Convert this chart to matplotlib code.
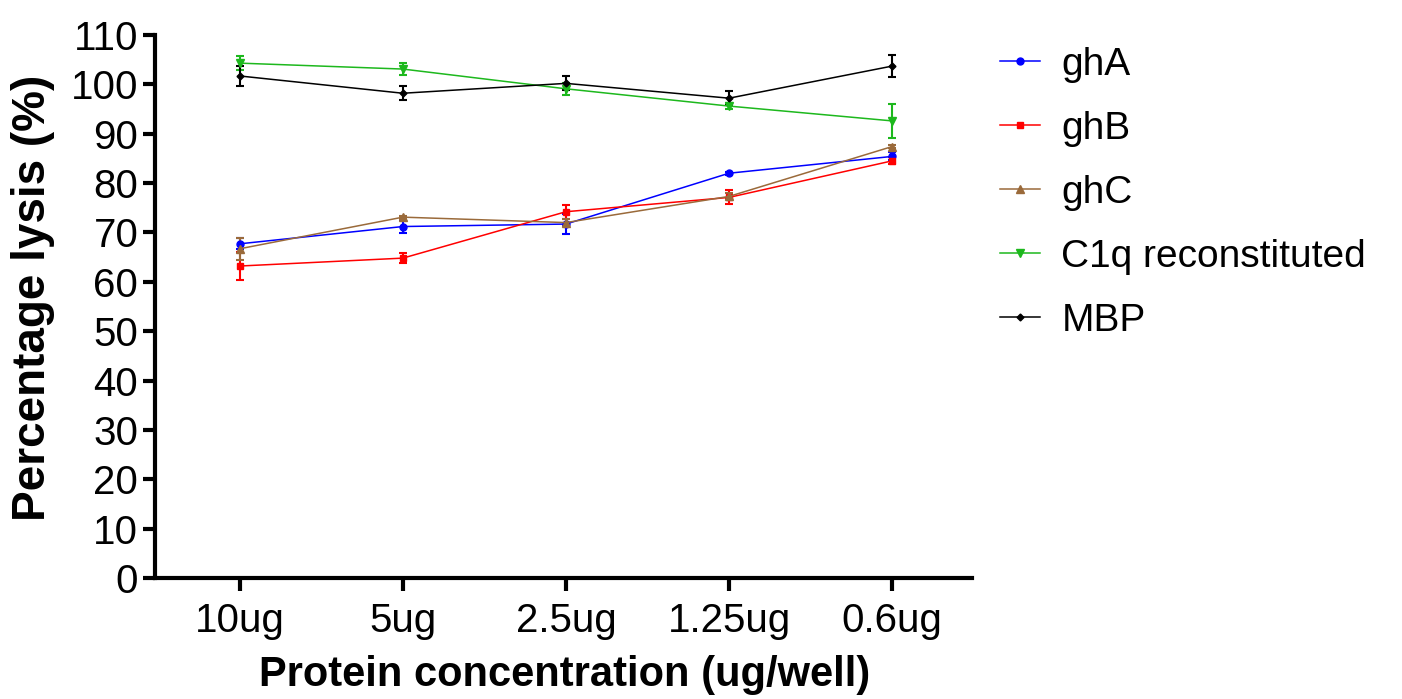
import matplotlib
matplotlib.use("Agg")
import matplotlib.pyplot as plt
from matplotlib.lines import Line2D
import numpy as np

plt.rcParams['font.family'] = ['Liberation Sans', 'DejaVu Sans']

categories = ["10ug", "5ug", "2.5ug", "1.25ug", "0.6ug"]
series_names = ["ghA", "ghB", "ghC", "C1q reconstituted", "MBP"]

ghA = [67.7, 71.2, 71.7, 82.0, 85.4]
ghA_err = [1.1, 1.4, 2.0, 0.3, 0.8]
ghB = [63.2, 64.8, 74.2, 77.1, 84.5]
ghB_err = [2.8, 1.0, 1.4, 1.4, 0.7]
ghC = [66.7, 73.1, 72.0, 77.3, 87.4]
ghC_err = [2.2, 0.3, 0.7, 0.6, 0.3]
c1q = [104.3, 103.1, 99.1, 95.6, 92.6]
c1q_err = [1.4, 1.3, 1.2, 0.6, 3.5]
mbp = [101.7, 98.2, 100.2, 97.2, 103.7]
mbp_err = [2.1, 1.4, 1.4, 1.4, 2.2]

values = [ghA, ghB, ghC, c1q, mbp]
errors = [ghA_err, ghB_err, ghC_err, c1q_err, mbp_err]
colors = ["#0000FF", "#FF0000", "#9A6A3A", "#1DB81D", "#000000"]
markers = ["o", "s", "^", "v", "D"]
msizes = [5, 5, 5.5, 5.5, 3.5]

fig = plt.figure(figsize=(14.02, 6.99), dpi=100)
ax = fig.add_axes([155/1402, 1 - 578/699, (972-155)/1402, (578-35)/699])

x = np.arange(len(categories))
handles = []
for vals, errs, c, m, ms, name in zip(values, errors, colors, markers, msizes, series_names):
    ax.errorbar(x, vals, yerr=errs, color=c, marker=m, markersize=ms, linewidth=1.1,
                elinewidth=1.5, capsize=3, capthick=1.5)
    handles.append(Line2D([], [], color=c, marker=m, markersize=ms, linewidth=1.1, label=name))

ax.set_xlim(-0.52, 4.49)
ax.set_ylim(0, 110)
ax.set_yticks(np.arange(0, 111, 10))
ax.set_xticks(x)
ax.set_xticklabels(categories)
for s in ["top", "right"]:
    ax.spines[s].set_visible(False)
for s in ["left", "bottom"]:
    ax.spines[s].set_linewidth(3)
ax.tick_params(axis='both', which='major', labelsize=29, width=3, length=9, direction='out')
ax.tick_params(axis='x', pad=8)
ax.tick_params(axis='y', pad=3)

fig.text(33/1402, 1 - 298/699, "Percentage lysis (%)", fontsize=33, fontweight='bold',
         rotation=90, ha='center', va='center')
fig.text(565/1402, 1 - 675/699, "Protein concentration (ug/well)", fontsize=30, fontweight='bold',
         ha='center', va='center')

leg = fig.legend(handles=handles, loc='upper left', bbox_to_anchor=(1000/1402, 1 - 47/699),
                 frameon=False, fontsize=28, handlelength=1.03, handletextpad=0.55,
                 labelspacing=0.72, borderaxespad=0, borderpad=0)

fig.savefig("out.png", dpi=100)
